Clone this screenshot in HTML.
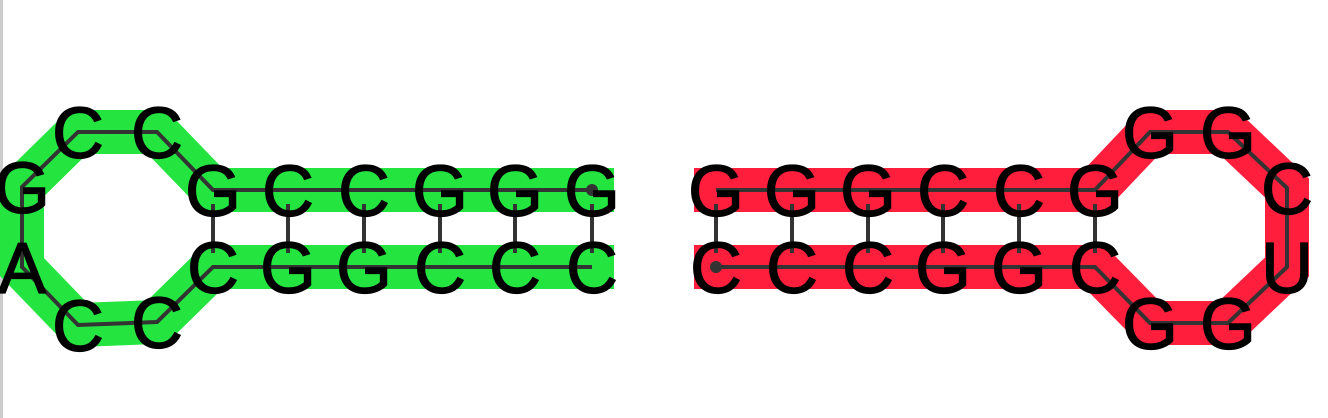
<!DOCTYPE html>
<html><head><meta charset="utf-8"><style>
html,body{margin:0;padding:0;background:#fff;width:1328px;height:418px;overflow:hidden}
svg{display:block}
text{font-family:"Liberation Sans",sans-serif;font-size:72px;fill:#000;text-anchor:middle;stroke:#000;stroke-width:1.2px}
</style></head><body>
<svg width="1328" height="418">
<rect x="0" y="0" width="3" height="418" fill="#ccc"/>
<g id="g"></g>
</svg>
<script>
const leftSeq = ['G','G','G','C','C','G','C','C','G','A','C','C','C','G','G','C','C','C'];
const leftX = [592,515,440,364,288,213,157,78,22,22,78,157,213,288,364,440,515,592];
const leftY = [190,190,190,190,190,190,132,132,187,267,325,322,267,267,267,267,267,267];
const rightSeq = ['C','C','C','G','G','C','G','G','U','C','G','G','G','C','C','G','G','G'];
const rightX = [716,792,868,943,1019,1095,1150,1228,1287,1287,1228,1150,1095,1019,943,868,792,716];
const rightY = [267,267,267,267,267,267,323,323,267,188,132,132,190,190,190,190,190,190];
const pairs = [[0,17],[1,16],[2,15],[3,14],[4,13],[5,12]];
const NS='http://www.w3.org/2000/svg';
const root=document.getElementById('g');
function draw(seq,xs,ys,color,name){
  const grp=document.createElementNS(NS,'g');
  
  
  root.appendChild(grp);
  const pts=xs.map((x,i)=>x+','+ys[i]).join(' ');
  const band=document.createElementNS(NS,'polyline');
  band.setAttribute('points',pts);
  band.setAttribute('fill','none');band.setAttribute('stroke',color);
  band.setAttribute('stroke-width','44');band.setAttribute('stroke-linecap','square');
  band.setAttribute('stroke-linejoin','miter');
  
  
  grp.appendChild(band);
  const bb=document.createElementNS(NS,'polyline');
  bb.setAttribute('points',pts);
  bb.setAttribute('fill','none');bb.setAttribute('stroke','#333');bb.setAttribute('stroke-width','4');
  
  
  grp.appendChild(bb);
  pairs.forEach(p=>{
    const a=Math.min(ys[p[0]],ys[p[1]]), b=Math.max(ys[p[0]],ys[p[1]]);
    const l=document.createElementNS(NS,'line');
    l.setAttribute('x1',xs[p[0]]);l.setAttribute('y1',a+14);
    l.setAttribute('x2',xs[p[1]]);l.setAttribute('y2',b-14);
    l.setAttribute('stroke','#333');l.setAttribute('stroke-width','4');
    
    
    grp.appendChild(l);
  });
  const dot=document.createElementNS(NS,'circle');
  dot.setAttribute('cx',xs[0]);dot.setAttribute('cy',ys[0]);dot.setAttribute('r','6');dot.setAttribute('fill','#333');
  
  
  grp.appendChild(dot);
  seq.forEach((s,i)=>{
    const t=document.createElementNS(NS,'text');
    t.setAttribute('x',xs[i]);t.setAttribute('y',ys[i]+26);
    t.textContent=s;
    
    
    grp.appendChild(t);
  });
}
draw(leftSeq,leftX,leftY,'#24e540','left-hairpin');
draw(rightSeq,rightX,rightY,'#ff1f3c','right-hairpin');
</script>
</body></html>
